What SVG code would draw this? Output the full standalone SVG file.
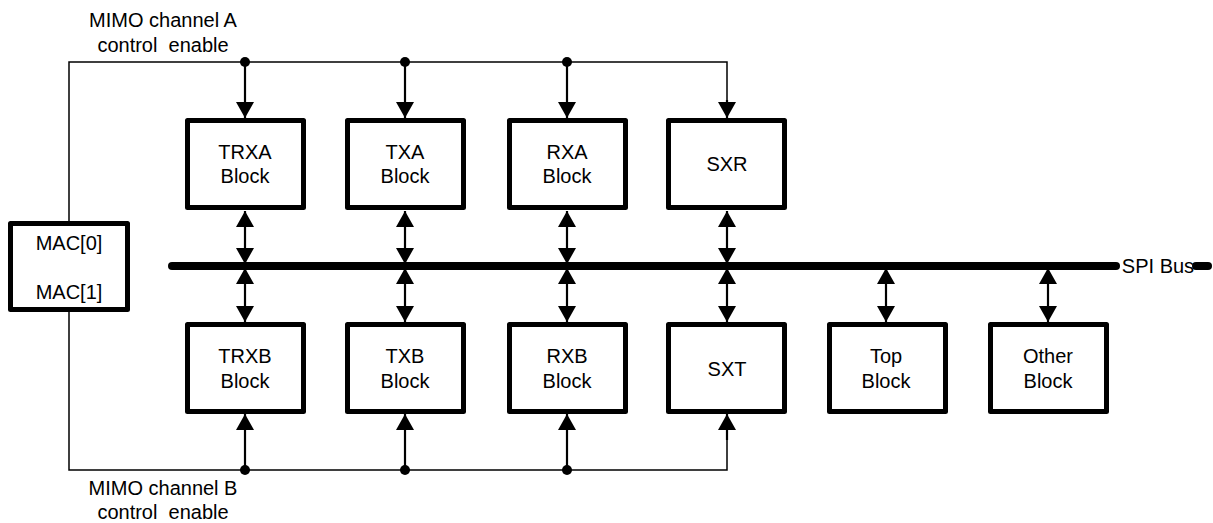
<svg xmlns="http://www.w3.org/2000/svg" width="1213" height="523" viewBox="0 0 1213 523">
<style>
text{font-family:"Liberation Sans",Arial,sans-serif;font-size:20px;fill:#000;text-anchor:middle}
.box{fill:#fff;stroke:#000;stroke-width:5;stroke-linejoin:round}
.wire{fill:none;stroke:#000;stroke-width:1.5}
.arr{fill:none;stroke:#000;stroke-width:2.2}
.bus{fill:none;stroke:#000;stroke-width:8;stroke-linecap:round}
</style>
<defs>
<marker id="ah" viewBox="0 0 16 18" refX="16" refY="9" markerWidth="16" markerHeight="18" markerUnits="userSpaceOnUse" orient="auto">
<path d="M0,0 L16,9 L0,18 Z" fill="#000"/>
</marker>
</defs>
<g id="connectors">
<polyline class="wire" points="69,221 69,62 727,62 727,104"/>
<polyline class="wire" points="69,312 69,470 727,470 727,428"/>
<line class="arr" x1="245" y1="62" x2="245" y2="118" marker-end="url(#ah)"/>
<line class="arr" x1="405" y1="62" x2="405" y2="118" marker-end="url(#ah)"/>
<line class="arr" x1="567" y1="62" x2="567" y2="118" marker-end="url(#ah)"/>
<line class="arr" x1="727" y1="100" x2="727" y2="118" marker-end="url(#ah)"/>
<line class="arr" x1="245" y1="470" x2="245" y2="414" marker-end="url(#ah)"/>
<line class="arr" x1="405" y1="470" x2="405" y2="414" marker-end="url(#ah)"/>
<line class="arr" x1="567" y1="470" x2="567" y2="414" marker-end="url(#ah)"/>
<line class="arr" x1="727" y1="440" x2="727" y2="414" marker-end="url(#ah)"/>
<circle cx="245" cy="62" r="5"/>
<circle cx="405" cy="62" r="5"/>
<circle cx="567" cy="62" r="5"/>
<circle cx="245" cy="470" r="5"/>
<circle cx="405" cy="470" r="5"/>
<circle cx="567" cy="470" r="5"/>
<line class="bus" x1="172" y1="266" x2="1116" y2="266"/>
<line class="bus" x1="1196" y1="266" x2="1208" y2="266"/>
<g id="busarrows">
<line class="arr" x1="245" y1="238" x2="245" y2="211" marker-end="url(#ah)"/>
<line class="arr" x1="245" y1="238" x2="245" y2="264" marker-end="url(#ah)"/>
<line class="arr" x1="245" y1="295" x2="245" y2="268" marker-end="url(#ah)"/>
<line class="arr" x1="245" y1="295" x2="245" y2="322" marker-end="url(#ah)"/>
<line class="arr" x1="405" y1="238" x2="405" y2="211" marker-end="url(#ah)"/>
<line class="arr" x1="405" y1="238" x2="405" y2="264" marker-end="url(#ah)"/>
<line class="arr" x1="405" y1="295" x2="405" y2="268" marker-end="url(#ah)"/>
<line class="arr" x1="405" y1="295" x2="405" y2="322" marker-end="url(#ah)"/>
<line class="arr" x1="567" y1="238" x2="567" y2="211" marker-end="url(#ah)"/>
<line class="arr" x1="567" y1="238" x2="567" y2="264" marker-end="url(#ah)"/>
<line class="arr" x1="567" y1="295" x2="567" y2="268" marker-end="url(#ah)"/>
<line class="arr" x1="567" y1="295" x2="567" y2="322" marker-end="url(#ah)"/>
<line class="arr" x1="727" y1="238" x2="727" y2="211" marker-end="url(#ah)"/>
<line class="arr" x1="727" y1="238" x2="727" y2="264" marker-end="url(#ah)"/>
<line class="arr" x1="727" y1="295" x2="727" y2="268" marker-end="url(#ah)"/>
<line class="arr" x1="727" y1="295" x2="727" y2="322" marker-end="url(#ah)"/>
<line class="arr" x1="886" y1="295" x2="886" y2="268" marker-end="url(#ah)"/>
<line class="arr" x1="886" y1="295" x2="886" y2="322" marker-end="url(#ah)"/>
<line class="arr" x1="1048" y1="295" x2="1048" y2="268" marker-end="url(#ah)"/>
<line class="arr" x1="1048" y1="295" x2="1048" y2="322" marker-end="url(#ah)"/>
</g>
</g>
<g id="label-a">
<text x="163" y="27">MIMO channel A</text>
<text x="163" y="52" xml:space="preserve">control  enable</text>
</g>
<g id="label-b">
<text x="163" y="495">MIMO channel B</text>
<text x="163" y="519" xml:space="preserve">control  enable</text>
</g>
<g id="spi-label"><text x="1158" y="273">SPI Bus</text></g>
<g id="mac"><rect class="box" x="10.5" y="223.5" width="117" height="86"/><text x="69" y="250">MAC[0]</text><text x="69" y="299">MAC[1]</text></g>
<g id="trxa"><rect class="box" x="187.5" y="120.5" width="116" height="87"/><text x="245" y="159">TRXA</text><text x="245" y="183">Block</text></g>
<g id="txa"><rect class="box" x="347.5" y="120.5" width="116" height="87"/><text x="405" y="159">TXA</text><text x="405" y="183">Block</text></g>
<g id="rxa"><rect class="box" x="509.5" y="120.5" width="116" height="87"/><text x="567" y="159">RXA</text><text x="567" y="183">Block</text></g>
<g id="sxr"><rect class="box" x="668.5" y="120.5" width="116" height="87"/><text x="727" y="171">SXR</text></g>
<g id="trxb"><rect class="box" x="187.5" y="324.5" width="116" height="87"/><text x="245" y="363">TRXB</text><text x="245" y="388">Block</text></g>
<g id="txb"><rect class="box" x="347.5" y="324.5" width="116" height="87"/><text x="405" y="363">TXB</text><text x="405" y="388">Block</text></g>
<g id="rxb"><rect class="box" x="509.5" y="324.5" width="116" height="87"/><text x="567" y="363">RXB</text><text x="567" y="388">Block</text></g>
<g id="sxt"><rect class="box" x="668.5" y="324.5" width="116" height="87"/><text x="727" y="376">SXT</text></g>
<g id="top"><rect class="box" x="829.5" y="324.5" width="116" height="87"/><text x="886" y="363">Top</text><text x="886" y="388">Block</text></g>
<g id="other"><rect class="box" x="990.5" y="324.5" width="116" height="87"/><text x="1048" y="363">Other</text><text x="1048" y="388">Block</text></g>
</svg>
